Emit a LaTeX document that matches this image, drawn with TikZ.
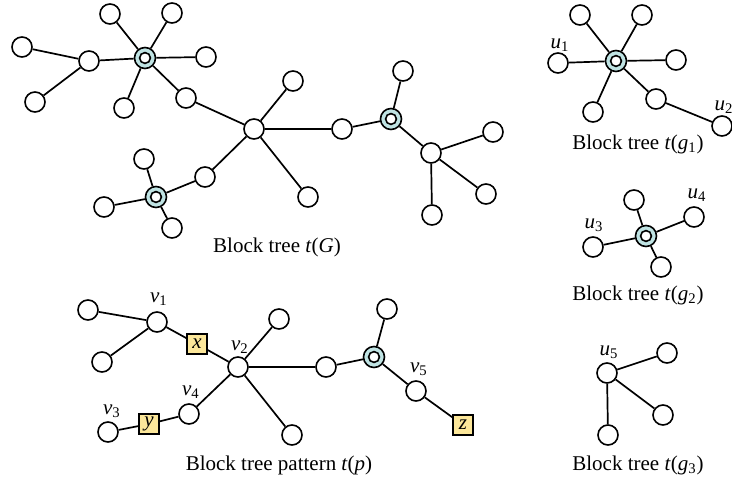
\documentclass[tikz,border=0pt]{standalone}
\usepackage{fontspec}
\setmainfont{Liberation Serif}
\definecolor{cutfill}{HTML}{BFE3E3}
\definecolor{boxfill}{HTML}{FCE79A}
\begin{document}
\begin{tikzpicture}[x=0.5pt,y=-0.5pt,
  every node/.style={font=\fontsize{10.5}{12}\selectfont},
  vtx/.style={circle,draw,fill=white,line width=0.8pt,minimum size=10pt,inner sep=0pt},
  cutv/.style={circle,draw,fill=cutfill,line width=0.8pt,minimum size=10.5pt,inner sep=0pt,
    path picture={\draw[fill=white,line width=0.8pt] (path picture bounding box.center) circle (2.7pt);}},
  sq/.style={rectangle,draw,fill=boxfill,line width=0.8pt,minimum size=10pt,inner sep=0pt},
  lbl/.style={inner sep=0pt},
  edge/.style={line width=0.85pt}]
\useasboundingbox (0,0) rectangle (732,485);
% ---------- t(G) ----------
\node[vtx] (a1) at (110,14) {};
\node[vtx] (a2) at (172,13) {};
\node[vtx] (a3) at (22,47) {};
\node[cutv] (c1) at (145,58) {};
\node[vtx] (a4) at (89,61) {};
\node[vtx] (a5) at (206,57) {};
\node[vtx] (a6) at (35,102) {};
\node[vtx] (a7) at (124,108) {};
\node[vtx] (a8) at (186,98) {};
\node[vtx] (h) at (254,129) {};
\node[vtx] (h1) at (293,81) {};
\node[vtx] (h2) at (342,129) {};
\node[vtx] (h3) at (308,197) {};
\node[vtx] (b1) at (205,177) {};
\node[cutv] (c2) at (156,197) {};
\node[vtx] (c2a) at (144,159) {};
\node[vtx] (c2b) at (104,207) {};
\node[vtx] (c2c) at (172,228) {};
\node[cutv] (c3) at (391,119) {};
\node[vtx] (c3a) at (403,71) {};
\node[vtx] (d) at (431,153) {};
\node[vtx] (d1) at (493,132) {};
\node[vtx] (d2) at (486,194) {};
\node[vtx] (d3) at (432,215) {};
\draw[edge] (a3)--(a4) (a6)--(a4) (a4)--(c1) (c1)--(a1) (c1)--(a2) (c1)--(a5) (c1)--(a7) (c1)--(a8)
  (a8)--(h) (h)--(h1) (h)--(h2) (h)--(h3) (h)--(b1) (b1)--(c2) (c2)--(c2a) (c2)--(c2b) (c2)--(c2c)
  (h2)--(c3) (c3)--(c3a) (c3)--(d) (d)--(d1) (d)--(d2) (d)--(d3);
\node (tG) at (277,247) {Block tree \textit{t}(\textit{G})};
% ---------- t(g1) ----------
\node[vtx] (g1a) at (580,15) {};
\node[vtx] (g1b) at (642,15) {};
\node[vtx] (u1) at (558,63) {};
\node[cutv] (g1c) at (616,61) {};
\node[vtx] (g1d) at (676,60) {};
\node[vtx] (g1e) at (593,112) {};
\node[vtx] (g1f) at (656,99) {};
\node[vtx] (u2) at (722,126) {};
\draw[edge] (g1c)--(g1a) (g1c)--(g1b) (g1c)--(u1) (g1c)--(g1d) (g1c)--(g1e) (g1c)--(g1f) (g1f)--(u2);
\node[lbl] (u1l) at (560,45) {\textit{u}\textsubscript{1}};
\node[lbl] (u2l) at (724,107) {\textit{u}\textsubscript{2}};
\node (tg1) at (638,144) {Block tree \textit{t}(\textit{g}\textsubscript{1})};
% ---------- t(g2) ----------
\node[vtx] (g2a) at (634,200) {};
\node[cutv] (g2c) at (646,236) {};
\node[vtx] (u4) at (694,217) {};
\node[vtx] (u3) at (593,247) {};
\node[vtx] (g2b) at (661,267) {};
\draw[edge] (g2c)--(g2a) (g2c)--(u4) (g2c)--(u3) (g2c)--(g2b);
\node[lbl] (u3l) at (594,225) {\textit{u}\textsubscript{3}};
\node[lbl] (u4l) at (697,195) {\textit{u}\textsubscript{4}};
\node (tg2) at (638,295) {Block tree \textit{t}(\textit{g}\textsubscript{2})};
% ---------- t(g3) ----------
\node[vtx] (u5) at (607,373) {};
\node[vtx] (g3a) at (667,353) {};
\node[vtx] (g3b) at (663,415) {};
\node[vtx] (g3c) at (608,435) {};
\draw[edge] (u5)--(g3a) (u5)--(g3b) (u5)--(g3c);
\node[lbl] (u5l) at (609,352) {\textit{u}\textsubscript{5}};
\node (tg3) at (638,465) {Block tree \textit{t}(\textit{g}\textsubscript{3})};
% ---------- t(p) ----------
\node[vtx] (p1) at (88,310) {};
\node[vtx] (v1) at (157,322) {};
\node[vtx] (p2) at (102,362) {};
\node[sq] (x) at (197,344) {\textit{x}};
\node[vtx] (v2) at (238,367) {};
\node[vtx] (p3) at (279,319) {};
\node[vtx] (p4) at (292,435) {};
\node[vtx] (v4) at (189,414) {};
\node[sq] (y) at (149,424) {\textit{y}};
\node[vtx] (v3) at (108,432) {};
\node[vtx] (p5) at (326,367) {};
\node[cutv] (c4) at (374,357) {};
\node[vtx] (p6) at (387,309) {};
\node[vtx] (v5) at (416,391) {};
\node[sq] (z) at (463,425) {\textit{z}};
\draw[edge] (p1)--(v1) (p2)--(v1) (v1)--(x) (x)--(v2) (v2)--(p3) (v2)--(p4) (v2)--(v4) (v4)--(y) (y)--(v3)
  (v2)--(p5) (p5)--(c4) (c4)--(p6) (c4)--(v5) (v5)--(z);
\node[lbl] (v1l) at (159,299) {\textit{v}\textsubscript{1}};
\node[lbl] (v2l) at (240,347) {\textit{v}\textsubscript{2}};
\node[lbl] (v4l) at (191,392) {\textit{v}\textsubscript{4}};
\node[lbl] (v3l) at (112,411) {\textit{v}\textsubscript{3}};
\node[lbl] (v5l) at (419,369) {\textit{v}\textsubscript{5}};
\node (tp) at (279,465) {Block tree pattern \textit{t}(\textit{p})};
\end{tikzpicture}
\end{document}
